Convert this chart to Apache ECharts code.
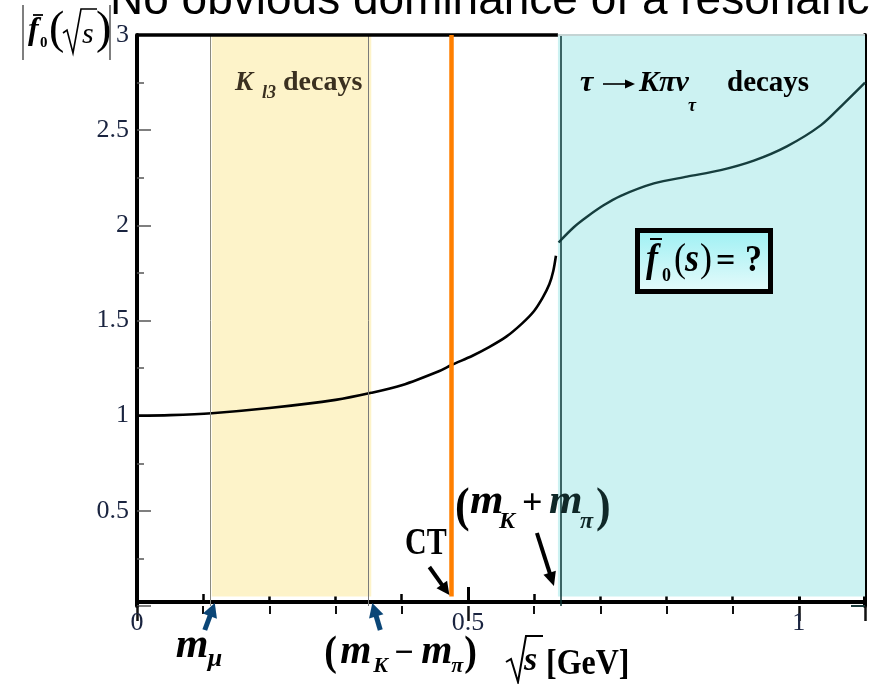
<!DOCTYPE html>
<html>
<head>
<meta charset="utf-8">
<script src="https://cdn.jsdelivr.net/npm/echarts@6/dist/echarts.min.js"></script>
<style>
  html, body { margin: 0; padding: 0; background: #fff; }
  #chart { width: 869px; height: 684px; }
</style>
</head>
<body>
<div id="chart"></div>
<script>
// |f0(sqrt s)| below the K pi threshold
const sqrtSLow = [0, 0.05, 0.113, 0.2, 0.3, 0.354, 0.4, 0.457, 0.475, 0.507, 0.532, 0.558, 0.582, 0.6, 0.613, 0.623, 0.629, 0.633];
const f0Low    = [1.0, 1.003, 1.013, 1.04, 1.083, 1.12, 1.16, 1.235, 1.266, 1.315, 1.36, 1.415, 1.485, 1.55, 1.62, 1.69, 1.76, 1.84];
// |f0(sqrt s)| in the tau -> K pi nu region
const sqrtSHigh = [0.637, 0.66, 0.68, 0.705, 0.731, 0.781, 0.831, 0.882, 0.932, 0.982, 1.033, 1.068, 1.1];
const f0High    = [1.91, 1.99, 2.045, 2.105, 2.155, 2.22, 2.256, 2.29, 2.34, 2.415, 2.525, 2.64, 2.75];
// kinematic points [GeV]
const mMu = 0.113;
const mKminusPi = 0.354;
const mCT = 0.475;
const mKplusPi = 0.636;
// axis ranges and label values
const xRange = [0, 1.1];
const yRange = [0, 3];
const xLabels = [0, 0.5, 1];
const yLabels = [0.5, 1, 1.5, 2, 2.5, 3];

const SERIF = '"Liberation Serif", "DejaVu Serif", serif';
const LABEL_COLOR = '#1a2440';

const chart = echarts.init(document.getElementById('chart'), null, { renderer: 'canvas' });

const pairs = (xs, ys) => xs.map((x, i) => [x, ys[i]]);

const option = {
  animation: false,
  backgroundColor: '#fff',
  grid: { left: 137, right: 4, top: 35, bottom: 78 },
  xAxis: [
    {
      type: 'value', min: xRange[0], max: xRange[1], interval: 0.5,
      position: 'bottom', offset: -4,
      axisLine: { show: true, onZero: false, lineStyle: { color: '#000', width: 4 } },
      axisTick: { show: true, inside: true, length: 15, lineStyle: { color: '#000', width: 3 } },
      minorTick: { show: true, splitNumber: 5, length: 8, lineStyle: { color: '#000', width: 2.5 } },
      axisLabel: {
        margin: 8, fontFamily: SERIF, fontSize: 26, color: LABEL_COLOR,
        formatter: v => (xLabels.includes(v) ? String(v) : '')
      },
      splitLine: { show: false }
    },
    {
      type: 'value', min: xRange[0], max: xRange[1], interval: 0.5, position: 'top',
      axisLine: { show: false },
      axisTick: { show: true, inside: true, length: 15, lineStyle: { color: '#111', width: 2.5 } },
      minorTick: { show: true, splitNumber: 5, length: 8, lineStyle: { color: '#111', width: 2 } },
      axisLabel: { show: false },
      splitLine: { show: false }
    }
  ],
  yAxis: [
    {
      type: 'value', min: yRange[0], max: yRange[1], interval: 0.5, position: 'left',
      axisLine: { show: true, onZero: false, lineStyle: { color: '#000', width: 4 } },
      axisTick: { show: true, inside: true, length: 14, lineStyle: { color: '#555', width: 1.5 } },
      minorTick: { show: true, splitNumber: 2, length: 7, lineStyle: { color: '#555', width: 1.5 } },
      axisLabel: {
        margin: 8, fontFamily: SERIF, fontSize: 26, color: LABEL_COLOR,
        formatter: v => (yLabels.includes(v) ? String(v) : '')
      },
      splitLine: { show: false }
    },
    {
      type: 'value', min: yRange[0], max: yRange[1], interval: 0.5, position: 'right',
      axisLine: { show: true, onZero: false, lineStyle: { color: '#000', width: 4 } },
      axisTick: { show: true, inside: true, length: 14, lineStyle: { color: '#1a3a3a', width: 2 } },
      minorTick: { show: true, splitNumber: 2, length: 7, lineStyle: { color: '#1a3a3a', width: 2 } },
      axisLabel: { show: false },
      splitLine: { show: false }
    }
  ],
  series: [
    {
      // shaded kinematic regions, their edges and the top frame
      type: 'line', data: [], z: -1, silent: true,
      markArea: {
        silent: true,
        data: [
          [{ coord: [mMu, 0.05], itemStyle: { color: '#fdf3c9' } }, { coord: [mKminusPi, yRange[1]] }],
          [{ coord: [mKplusPi, 0.05], itemStyle: { color: '#ccf2f2' } }, { coord: [xRange[1], yRange[1]] }]
        ]
      },
      markLine: {
        silent: true, symbol: 'none', label: { show: false },
        data: [
          { xAxis: mMu, lineStyle: { color: '#8a8a80', width: 1, type: 'solid' } },
          { xAxis: mKminusPi, lineStyle: { color: '#7a7a7a', width: 1, type: 'solid' } },
          { xAxis: mKplusPi, lineStyle: { color: '#0b3434', width: 1.5, type: 'solid' } },
          [{ coord: [xRange[0], yRange[1]], lineStyle: { color: '#000', width: 3.5, type: 'solid' } },
           { coord: [mKplusPi, yRange[1]] }],
          [{ coord: [mKplusPi, yRange[1]], lineStyle: { color: '#c4d4d4', width: 2, type: 'solid' } },
           { coord: [xRange[1], yRange[1]] }]
        ]
      }
    },
    {
      type: 'line', data: pairs(sqrtSLow, f0Low), z: 2,
      smooth: 0.3, symbol: 'none', silent: true,
      lineStyle: { color: '#000', width: 2.6 }
    },
    {
      type: 'line', data: pairs(sqrtSHigh, f0High), z: 2,
      smooth: 0.3, symbol: 'none', silent: true,
      lineStyle: { color: '#163e3e', width: 2.4 }
    },
    {
      // CT point
      type: 'line', data: [], z: 4, silent: true,
      markLine: {
        silent: true, symbol: 'none', label: { show: false },
        data: [[{ coord: [mCT, 0.05], lineStyle: { color: '#ff7f00', width: 4.5, type: 'solid' } },
                { coord: [mCT, yRange[1]] }]]
      }
    }
  ]
};
chart.setOption(option);

// ---- annotations ----
const P = (x, y) => chart.convertToPixel({ xAxisIndex: 0, yAxisIndex: 0 }, [x, y]);

// text placed by its baseline
function txt(x, base, s, size, o) {
  o = o || {};
  const a = o.a || 'left';
  const el = {
    type: 'text', x: x, y: base - 0.34 * size, z: 100,
    style: {
      text: s, fontFamily: o.f || SERIF, fontSize: size,
      fontWeight: o.w || 'bold', fontStyle: o.i ? 'italic' : 'normal',
      fill: o.c || '#000',
      align: a, textAlign: a, verticalAlign: 'middle', textVerticalAlign: 'middle'
    }
  };
  if (o.sy) { el.scaleY = o.sy; el.originX = 0; el.originY = 0.34 * size; }
  return el;
}
function seg(x1, y1, x2, y2, color, w) {
  return { type: 'line', z: 100, shape: { x1, y1, x2, y2 }, style: { stroke: color, lineWidth: w } };
}
function poly(points, color, w) {
  return { type: 'polyline', z: 100, shape: { points }, style: { stroke: color, lineWidth: w, fill: null, lineJoin: 'miter' } };
}
function arrow(x1, y1, x2, y2, color, w, hl, hw) {
  const dx = x2 - x1, dy = y2 - y1, L = Math.hypot(dx, dy);
  const ux = dx / L, uy = dy / L, nx = -uy, ny = ux;
  const bx = x2 - ux * hl, by = y2 - uy * hl;
  return [
    seg(x1, y1, bx + ux * 2, by + uy * 2, color, w),
    { type: 'polygon', z: 100, shape: { points: [[x2, y2], [bx + nx * hw / 2, by + ny * hw / 2], [bx - nx * hw / 2, by - ny * hw / 2]] },
      style: { fill: color } }
  ];
}

const axisY = P(0, 0)[1] - 4;
const pMu = P(mMu, 0)[0];
const pKm = P(mKminusPi, 0)[0];
const pCT = P(mCT, 0)[0];
const pKp = P(mKplusPi, 0)[0];
const BLUE = '#0b4677';

const els = [];
// slide heading, partly cut off at the top
els.push(txt(110, 17, 'No obvious dominance of a resonance', 46,
  { f: '"Liberation Sans", Arial, sans-serif', w: 'normal' }));

// y-axis title |f0(sqrt s)|
els.push(seg(23, 5, 23, 60, '#555', 1.5));
els.push(seg(110, 5, 110, 60, '#555', 1.5));
els.push(txt(28, 42, 'f', 32, { i: true }));
els.push(seg(33, 15, 43, 15, '#000', 1.8));
els.push(txt(40, 48, '0', 15, {}));
els.push(txt(49, 47, '(', 46, { w: 'normal' }));
els.push(poly([[63, 33], [67, 30], [73, 53], [81, 9], [97, 9]], '#000', 1.6));
els.push(txt(82, 45, 's', 30, { i: true, w: 'normal' }));
els.push(txt(96, 47, ')', 46, { w: 'normal' }));

// K_l3 decays
els.push(txt(235, 92, 'K', 27, { i: true, c: '#3a3020' }));
els.push(txt(262, 99, 'l3', 18, { i: true, c: '#3a3020' }));
els.push(txt(283, 92, 'decays', 28, { c: '#3a3020' }));

// tau -> K pi nu_tau decays
els.push(txt(580, 93, '\u03C4', 30, { i: true }));
els.push(...arrow(603, 84, 635, 84, '#000', 1.6, 10, 9));
els.push(txt(639, 93, 'K\u03C0\u03BD', 30, { i: true }));
els.push(txt(688, 112, '\u03C4', 18, { i: true }));
els.push(txt(727, 93, 'decays', 29, {}));

// boxed question f0(s) = ?
els.push({ type: 'rect', z: 90, shape: { x: 637.5, y: 230.5, width: 133, height: 61 },
  style: { stroke: '#000', lineWidth: 5,
    fill: new echarts.graphic.LinearGradient(0, 0, 0, 1, [{ offset: 0, color: '#9cf0f3' }, { offset: 1, color: '#e8fbfb' }]) } });
els.push(txt(646, 274, 'f', 36, { i: true, sy: 1.1 }));
els.push(seg(650, 239, 662, 239, '#000', 2));
els.push(txt(662, 282, '0', 18, {}));
els.push(txt(674, 274, '(', 36, { w: 'normal', sy: 1.1 }));
els.push(txt(685, 274, 's', 36, { i: true, sy: 1.1 }));
els.push(txt(700, 274, ')', 36, { w: 'normal', sy: 1.1 }));
els.push(txt(716, 274, '=', 34, {}));
els.push(txt(745, 274, '?', 34, { sy: 1.1 }));

// (m_K + m_pi) threshold
els.push(txt(455, 525, '(', 44, { sy: 1.1 }));
els.push(txt(470, 517, 'm', 43, { i: true }));
els.push(txt(499, 530, 'K', 24, { i: true }));
els.push(txt(522, 517, '+', 36, {}));
els.push(txt(549, 517, 'm', 43, { i: true, c: '#102828' }));
els.push(txt(580, 530, '\u03C0', 24, { i: true, c: '#102828' }));
els.push(txt(596, 525, ')', 44, { c: '#102828', sy: 1.1 }));
els.push(...arrow(pKp - 21, 533, pKp - 4, 586, '#000', 4, 14, 13));

// CT
els.push(txt(405, 557, 'CT', 30, { sy: 1.25 }));
els.push(...arrow(pCT - 22, 567, pCT - 2, 595, '#000', 4, 13, 13));

// muon mass and (m_K - m_pi)
els.push(...arrow(pMu - 7, 630, pMu + 3, axisY + 1, BLUE, 5, 14, 15));
els.push(...arrow(pKm + 9, 630, pKm + 1, axisY + 1, BLUE, 5, 14, 15));
els.push(txt(pMu - 36, 660, 'm', 42, { i: true }));
els.push(txt(pMu - 4, 668, '\u03BC', 26, { i: true }));
els.push(txt(pKm - 47, 668, '(', 38, { sy: 1.1 }));
els.push(txt(pKm - 31, 666, 'm', 40, { i: true }));
els.push(txt(pKm + 2, 674, 'K', 22, { i: true }));
els.push(txt(pKm + 23, 666, '\u2212', 34, {}));
els.push(txt(pKm + 50, 666, 'm', 40, { i: true }));
els.push(txt(pKm + 80, 674, '\u03C0', 22, { i: true }));
els.push(txt(pKm + 93, 668, ')', 38, { sy: 1.1 }));

// sqrt(s) [GeV]
els.push(poly([[506, 662], [511, 659], [518, 682], [526, 636], [543, 636]], '#000', 2));
els.push(txt(524, 673, 's', 34, { i: true }));
els.push(txt(546, 677, '[GeV]', 32, { sy: 1.1 }));

chart.setOption({ graphic: { elements: els } });
</script>
</body>
</html>
